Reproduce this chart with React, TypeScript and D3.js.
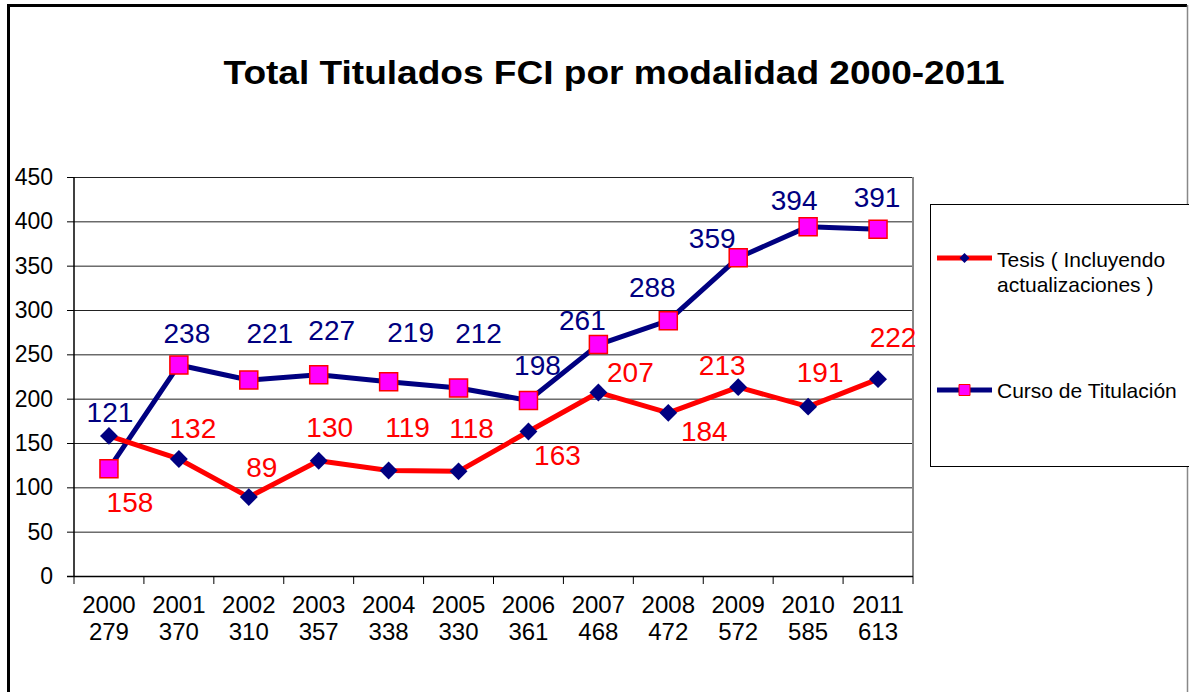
import React from 'react';
import * as d3 from 'd3';

// values
const years = ['2000', '2001', '2002', '2003', '2004', '2005', '2006', '2007', '2008', '2009', '2010', '2011'];
const totals = [279, 370, 310, 357, 338, 330, 361, 468, 472, 572, 585, 613];
const tesis = [158, 132, 89, 130, 119, 118, 163, 207, 184, 213, 191, 222];
const curso = [121, 238, 221, 227, 219, 212, 198, 261, 288, 359, 394, 391];
const yTicks = [0, 50, 100, 150, 200, 250, 300, 350, 400, 450];

// hand placed data labels (offset from the marker, like the excel original)
const tesisLabelOff = [[21, 76], [14, -21], [13, -20], [11, -24], [19, -33], [13, -33], [29, 34], [32, -10], [36, 28], [-16, -12], [12, -25], [15, -32]];
const cursoLabelOff = [[1, -47], [8, -22], [21, -37], [13, -35], [22, -40], [20, -45], [9, -25], [-16, -15], [-16, -24], [-26, -10], [-14, -17], [-1, -22]];

const RED = '#ff0000';
const NAVY = '#000080';
const MAGENTA = '#ff00ff';
const FONT = '"Liberation Sans", Arial, sans-serif';

const W = 1189;
const H = 692;
const plot = { left: 74, right: 913, top: 177, bottom: 576 };

const App = () => {
    const x = d3.scaleBand().domain(years).range([plot.left, plot.right]);
    const y = d3.scaleLinear().domain([0, 450]).range([plot.bottom, plot.top]);
    const cx = (i: number) => (x(years[i]) as number) + x.bandwidth() / 2;

    const line = d3.line<number>().x((_, i) => cx(i)).y(d => y(d));
    const diamond = d3.symbol().type(d3.symbolSquare).size(160)();
    const square = d3.symbol().type(d3.symbolSquare).size(324)();
    const smallDiamond = d3.symbol().type(d3.symbolSquare).size(50)();
    const smallSquare = d3.symbol().type(d3.symbolSquare).size(121)();

    return (
        <svg width={W} height={H} style={{ position: 'absolute', left: 0, top: 0 }} fontFamily={FONT}>
            <rect x={0} y={0} width={W} height={H} fill='white' />
            {/* outer frame */}
            <path d={`M8.5,${H + 5} V5.5 H1187`} fill='none' stroke='black' strokeWidth={3} />
            <line x1={1187.5} x2={1187.5} y1={5} y2={H} stroke='#888' strokeWidth={1.5} />

            <text x={614} y={84} textAnchor='middle' fontSize={33} fontWeight='bold' textLength={781} lengthAdjust='spacingAndGlyphs'>
                Total Titulados FCI por modalidad 2000-2011
            </text>

            {/* grid + y axis */}
            {yTicks.map(t => (
                <g key={t} transform={`translate(0,${y(t)})`}>
                    {t > 0 && <line x1={plot.left} x2={plot.right} y1={0.5} y2={0.5} stroke='#222' strokeWidth={1} />}
                    <line x1={plot.left - 7} x2={plot.left} y1={0.5} y2={0.5} stroke='black' />
                    <text x={53} y={8} textAnchor='end' fontSize={23}>{t}</text>
                </g>
            ))}
            <line x1={plot.right} x2={plot.right} y1={plot.top} y2={plot.bottom} stroke='#888' strokeWidth={2} />
            <line x1={plot.left} x2={plot.left} y1={plot.top} y2={plot.bottom} stroke='black' strokeWidth={1.5} />
            <line x1={plot.left - 7} x2={plot.right} y1={plot.bottom + 0.5} y2={plot.bottom + 0.5} stroke='black' strokeWidth={1.5} />

            {/* x axis */}
            {years.map((yr, i) => (
                <g key={yr}>
                    <line x1={x(yr)} x2={x(yr)} y1={plot.bottom} y2={plot.bottom + 8} stroke='black' />
                    <text x={cx(i)} y={613} textAnchor='middle' fontSize={24}>{yr}</text>
                    <text x={cx(i)} y={640} textAnchor='middle' fontSize={24}>{totals[i]}</text>
                </g>
            ))}
            <line x1={plot.right} x2={plot.right} y1={plot.bottom} y2={plot.bottom + 8} stroke='black' />

            {/* series */}
            <path d={line(curso) as string} fill='none' stroke={NAVY} strokeWidth={5} strokeLinejoin='round' />
            <path d={line(tesis) as string} fill='none' stroke={RED} strokeWidth={5} strokeLinejoin='round' />
            {curso.map((v, i) => (
                <path key={'c' + i} d={square as string} transform={`translate(${cx(i)},${y(v)})`} fill={MAGENTA} stroke={RED} strokeWidth={1.5} />
            ))}
            {tesis.map((v, i) => (
                <path key={'t' + i} d={diamond as string} transform={`translate(${cx(i)},${y(v)}) rotate(45)`} fill={NAVY} />
            ))}

            {/* data labels */}
            {curso.map((v, i) => (
                <text key={'cl' + i} x={cx(i) + cursoLabelOff[i][0]} y={y(v) + cursoLabelOff[i][1]} textAnchor='middle' fontSize={28} fill={NAVY}>{v}</text>
            ))}
            {tesis.map((v, i) => (
                <text key={'tl' + i} x={cx(i) + tesisLabelOff[i][0]} y={y(v) + tesisLabelOff[i][1]} textAnchor='middle' fontSize={28} fill={RED}>{v}</text>
            ))}

            {/* legend */}
            <rect x={930.5} y={204.5} width={270} height={262} fill='white' stroke='black' strokeWidth={1} />
            <line x1={937} x2={992} y1={258} y2={258} stroke={RED} strokeWidth={5} />
            <path d={smallDiamond as string} transform='translate(964.5,258) rotate(45)' fill={NAVY} />
            <text x={997} y={267} fontSize={21}>Tesis ( Incluyendo</text>
            <text x={997} y={292} fontSize={21}>actualizaciones )</text>
            <line x1={937} x2={992} y1={390} y2={390} stroke={NAVY} strokeWidth={5} />
            <path d={smallSquare as string} transform='translate(964.5,390)' fill={MAGENTA} stroke={RED} strokeWidth={1} />
            <text x={997} y={398} fontSize={21}>Curso de Titulación</text>
        </svg>
    );
};

export default App;
